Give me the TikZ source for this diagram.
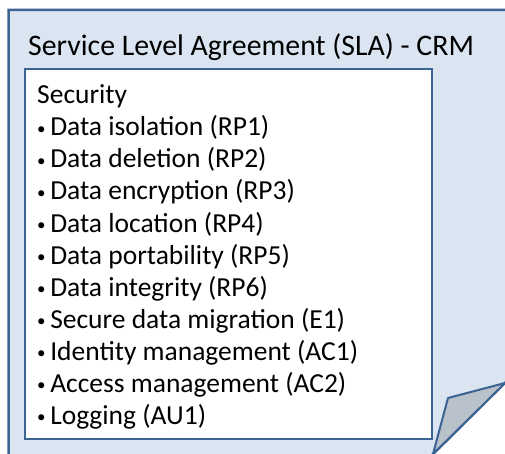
\documentclass[tikz,border=0pt]{standalone}
\usepackage{fontspec}
\setmainfont{Carlito}
\definecolor{slafill}{HTML}{DBE5F1}
\definecolor{slaline}{HTML}{3B6494}
\definecolor{foldfill}{HTML}{B9C1CB}
\newcommand{\slabullet}{{\fontsize{17}{17}\selectfont\raisebox{1.5pt}{\textbullet}}\,}
\tikzset{
  itemtext/.style={anchor=base west, inner sep=0pt, font=\fontsize{27.5}{31}\selectfont},
  titletext/.style={anchor=base west, inner sep=0pt, font=\fontsize{29.8}{35}\selectfont}
}
\begin{document}
\begin{tikzpicture}[x=1pt,y=-1pt]
\useasboundingbox (0,0) rectangle (505,454);
\draw [slaline, fill=slafill, line width=2.5pt] (8.5,10) -- (520,10) -- (520,368) -- (424,463) -- (8.5,463) -- cycle;
\draw [slaline, fill=foldfill, line width=2pt, line join=round] (433,454) -- (448,398) -- (505,383) -- cycle;
\node (box) [draw=slaline, fill=white, line width=2.5pt, minimum width=407pt, minimum height=370pt, inner sep=0pt] at (228.5,254) {};
\node (title) [titletext] at (28,56) {Service Level Agreement (SLA) - CRM};
\node (sec) [itemtext] at (37,104) {Security};
\node (rp1) [itemtext] at (37,136) {\slabullet Data isolation (RP1)};
\node (rp2) [itemtext] at (37,168) {\slabullet Data deletion (RP2)};
\node (rp3) [itemtext] at (37,200) {\slabullet Data encryption (RP3)};
\node (rp4) [itemtext] at (37,232) {\slabullet Data location (RP4)};
\node (rp5) [itemtext] at (37,264) {\slabullet Data portability (RP5)};
\node (rp6) [itemtext] at (37,296) {\slabullet Data integrity (RP6)};
\node (e1) [itemtext] at (37,328) {\slabullet Secure data migration (E1)};
\node (ac1) [itemtext] at (37,360) {\slabullet Identity management (AC1)};
\node (ac2) [itemtext] at (37,392) {\slabullet Access management (AC2)};
\node (au1) [itemtext] at (37,424) {\slabullet Logging (AU1)};
\end{tikzpicture}
\end{document}
